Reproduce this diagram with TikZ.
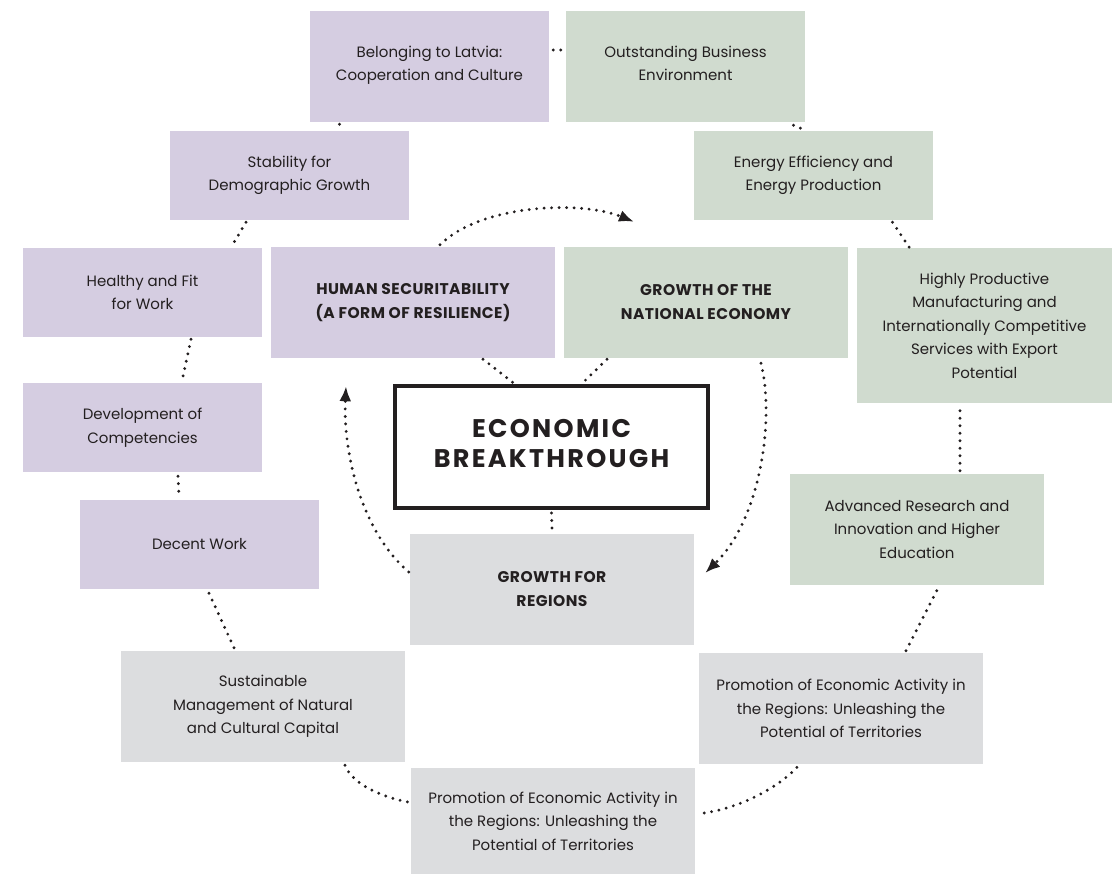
\documentclass[tikz,border=0pt]{standalone}
\usepackage{fontspec}
\setmainfont{Poppins}
\newfontfamily\headfont[LetterSpace=3]{Poppins}
\newfontfamily\titlefont[LetterSpace=9]{Poppins}
\usepackage{tikz}
\usetikzlibrary{arrows.meta}
\definecolor{lila}{RGB}{213,205,225}
\definecolor{salvia}{RGB}{208,219,207}
\definecolor{grau}{RGB}{220,221,223}
\definecolor{ink}{RGB}{35,31,32}
\tikzset{
  box/.style={inner sep=0pt, align=center, text=ink, font=\fontsize{15}{23.5}\selectfont},
  head/.style={font=\headfont\bfseries\fontsize{15.5}{24}\selectfont},
  dots/.style={draw=ink, line width=3.2pt, line cap=round, dash pattern=on 0pt off 7.5pt},
  ring/.style={dots, -{Latex[length=15pt,width=12pt]}}
}
\begin{document}
\begin{tikzpicture}[x=1pt,y=-1pt]
\useasboundingbox (0,0) rectangle (1115,875);
% human securitability side
\node[box,fill=lila,minimum width=239pt,minimum height=111pt] (bel) at (429.5,66.5) {Belonging to Latvia:\\Cooperation and Culture\\[-17.5pt]};
\node[box,fill=lila,minimum width=239pt,minimum height=89pt] (stab) at (289.5,175.5) {Stability for\\Demographic Growth};
\node[box,fill=lila,minimum width=239pt,minimum height=89pt] (heal) at (142.5,292.5) {Healthy and Fit\\for Work};
\node[box,fill=lila,minimum width=239pt,minimum height=89pt] (dev) at (142.5,427.5) {Development of\\Competencies};
\node[box,fill=lila,minimum width=239pt,minimum height=89pt] (dec) at (199.5,544.5) {Decent Work};
\node[box,head,fill=lila,minimum width=284pt,minimum height=111pt] (hs) at (413,302.5) {HUMAN SECURITABILITY\\(A FORM OF RESILIENCE)};
% national economy side
\node[box,fill=salvia,minimum width=239pt,minimum height=111pt] (out) at (685.5,66.5) {Outstanding Business\\Environment\\[-17.5pt]};
\node[box,fill=salvia,minimum width=239pt,minimum height=89pt] (ener) at (813.5,175.5) {Energy Efficiency and\\Energy Production};
\node[box,fill=salvia,minimum width=255pt,minimum height=155pt] (high) at (984.5,325.5) {Highly Productive\\Manufacturing and\\Internationally Competitive\\Services with Export\\Potential};
\node[box,fill=salvia,minimum width=254pt,minimum height=111pt] (adv) at (917,529.5) {Advanced Research and\\Innovation and Higher\\Education};
\node[box,head,fill=salvia,minimum width=284pt,minimum height=111pt] (gne) at (706,302.5) {GROWTH OF THE\\NATIONAL ECONOMY};
% regions
\node[box,head,fill=grau,minimum width=284pt,minimum height=111pt] (gfr) at (552,589.5) {GROWTH FOR\\REGIONS};
\node[box,fill=grau,minimum width=284pt,minimum height=111pt] (sus) at (263,706.5) {Sustainable\\Management of Natural\\and Cultural Capital};
\node[box,fill=grau,minimum width=284pt,minimum height=111pt] (proR) at (841,708.5) {Promotion of Economic Activity in\\the Regions: Unleashing the\\Potential of Territories};
\node[box,fill=grau,minimum width=284pt,minimum height=106pt] (proB) at (553,821) {Promotion of Economic Activity in\\the Regions: Unleashing the\\Potential of Territories};
% centre
\node[box,draw=ink,line width=4pt,fill=white,minimum width=313pt,minimum height=122pt,
  font=\titlefont\bfseries\fontsize{25.5}{30}\selectfont] (eb) at (551.5,447) {ECONOMIC\\BREAKTHROUGH\\[-22pt]};

% outer ring
\draw[dots] ([xshift=4pt,yshift=16.5pt]bel.east) -- ([xshift=-3pt,yshift=16.5pt]out.west);
\draw[dots] ([xshift=-90pt,yshift=-2pt]bel.south) -- ([xshift=48pt,yshift=2pt]stab.north);
\draw[dots] ([xshift=-43.5pt,yshift=-2pt]stab.south) -- ([xshift=89.5pt,yshift=2pt]heal.north);
\draw[dots] ([xshift=48.5pt,yshift=-2pt]heal.south) -- ([xshift=39.5pt,yshift=2pt]dev.north);
\draw[dots] ([xshift=35.5pt,yshift=-4pt]dev.south) -- ([xshift=-20.5pt,yshift=4pt]dec.north);
\draw[dots] ([xshift=9.5pt,yshift=-4pt]dec.south) -- ([xshift=-29pt,yshift=3pt]sus.north);
\draw[dots] ([xshift=82pt,yshift=-3pt]sus.south) .. controls +(8,20) and +(-25,-5) .. ([xshift=-3pt,yshift=19pt]proB.west);
\draw[dots] ([xshift=9pt,yshift=8pt]proB.east) .. controls +(35,-5) and +(-20,22) .. ([xshift=-43pt,yshift=-2pt]proR.south);
\draw[dots] ([xshift=65pt,yshift=2pt]proR.north) -- ([xshift=21pt,yshift=-3pt]adv.south);
\draw[dots] ([xshift=43pt,yshift=3pt]adv.north) -- ([xshift=-24.5pt,yshift=-5pt]high.south);
\draw[dots] ([xshift=79pt,yshift=-2pt]ener.south) -- ([xshift=-75pt]high.north);
\draw[dots] ([xshift=108pt,yshift=-3pt]out.south) -- ([xshift=-7pt]ener.north);
% hub
\draw[dots] ([xshift=70pt,yshift=-1pt]hs.south) -- ([xshift=-38pt,yshift=1pt]eb.north);
\draw[dots] ([xshift=-99pt,yshift=-1pt]gne.south) -- ([xshift=31pt,yshift=1pt]eb.north);
\draw[dots] ([yshift=-3pt]eb.south) -- ([yshift=3pt]gfr.north);
% cycle
\draw[ring] ([xshift=27pt,yshift=2pt]hs.north) .. controls +(40,-40) and +(-54,-22) .. ([xshift=-72pt,yshift=25pt]gne.north);
\draw[ring] ([xshift=55pt,yshift=-5pt]gne.south) .. controls +(14,57) and +(55,-53) .. ([xshift=11pt,yshift=16.5pt]gfr.east);
\draw[ring] ([xshift=-1pt,yshift=17.5pt]gfr.west) .. controls +(-49,-42) and +(-3,64) .. ([xshift=-67pt,yshift=-28pt]hs.south);
\end{tikzpicture}
\end{document}
